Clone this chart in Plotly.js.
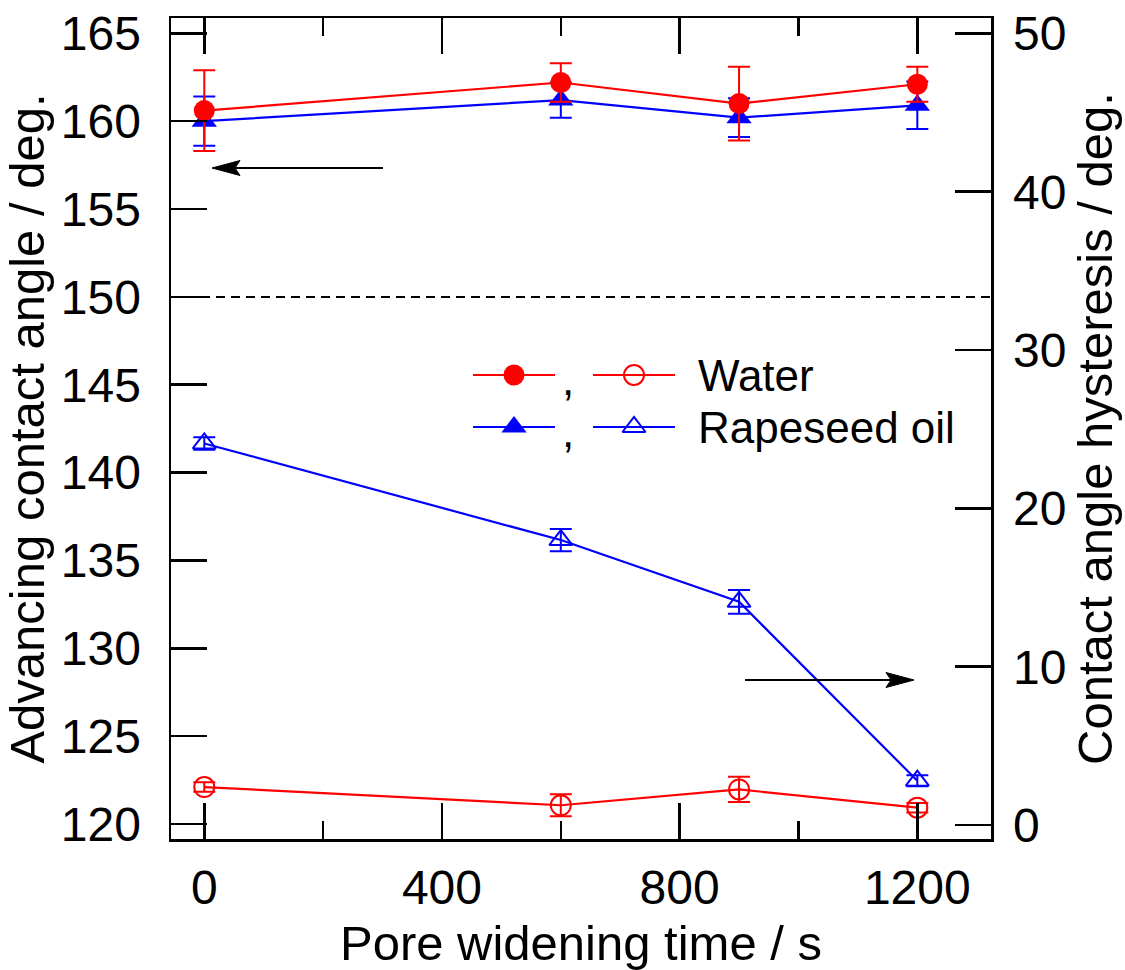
<!DOCTYPE html>
<html>
<head>
<meta charset="utf-8">
<script src="https://cdn.plot.ly/plotly-3.0.1.min.js"></script>
<style>html,body{margin:0;padding:0;background:#fff;}</style>
</head>
<body>
<div id="chart" style="width:1125px;height:970px;"></div>
<script>
// ---- data ----
const time = [0, 600, 900, 1200];
const waterAdv = [160.6, 162.2, 161.0, 162.1];
const waterAdvErr = [2.3, 1.1, 2.1, 1.0];
const oilAdv = [160.0, 161.2, 160.2, 160.9];
const oilAdvErr = [1.4, 1.0, 1.1, 1.35];
const waterHys = [2.4, 1.25, 2.25, 1.1];
const waterHysErr = [0.3, 0.7, 0.8, 0.3];
const oilHys = [24.1, 18.0, 14.1, 2.8];
const oilHysErr = [0.4, 0.7, 0.75, 0.35];
const superhydrophobicLimit = 150;
const xTicks = [0, 400, 800, 1200];
const yLeftTicks = [120, 125, 130, 135, 140, 145, 150, 155, 160, 165];
const yRightTicks = [0, 10, 20, 30, 40, 50];
const legendNames = ["Water", "Rapeseed oil"];

const RED = '#ff0000', BLUE = '#0000ff';
const FONT = 'Liberation Sans, Arial, sans-serif';

function errs(arr, color) {
  return {type: 'data', array: arr, visible: true, color: color, thickness: 2, width: 11};
}

const traces = [
  // hysteresis (right axis)
  {x: time, y: oilHys, yaxis: 'y2', mode: 'lines+markers', error_y: errs(oilHysErr, BLUE),
   line: {color: BLUE, width: 2.2}, marker: {symbol: 'triangle-up-open', size: 20, color: BLUE, line: {width: 2, color: BLUE}}},
  {x: time, y: waterHys, yaxis: 'y2', mode: 'lines+markers', error_y: errs(waterHysErr, RED),
   line: {color: RED, width: 2.2}, marker: {symbol: 'circle-open', size: 20, color: RED, line: {width: 2, color: RED}}},
  // advancing (left axis)
  {x: time, y: oilAdv, yaxis: 'y', mode: 'lines+markers', error_y: errs(oilAdvErr, BLUE),
   line: {color: BLUE, width: 2.2}, marker: {symbol: 'triangle-up', size: 22, color: BLUE}},
  {x: time, y: waterAdv, yaxis: 'y', mode: 'lines+markers', error_y: errs(waterAdvErr, RED),
   line: {color: RED, width: 2.2}, marker: {symbol: 'circle', size: 21, color: RED}}
];

// ---- legend drawn on a hidden pixel-like overlay axis ----
const legRows = [{y: 375, color: RED, filled: 'circle', open: 'circle-open', fsize: 21, osize: 20},
                 {y: 427, color: BLUE, filled: 'triangle-up', open: 'triangle-up-open', fsize: 22, osize: 20}];
const annotations = [];
legRows.forEach((r, i) => {
  traces.push({x: [473, 555], y: [r.y, r.y], xaxis: 'x3', yaxis: 'y3', mode: 'lines', line: {color: r.color, width: 2.2}, hoverinfo: 'skip'});
  traces.push({x: [593, 675], y: [r.y, r.y], xaxis: 'x3', yaxis: 'y3', mode: 'lines', line: {color: r.color, width: 2.2}, hoverinfo: 'skip'});
  traces.push({x: [514], y: [r.y], xaxis: 'x3', yaxis: 'y3', mode: 'markers', marker: {symbol: r.filled, size: r.fsize, color: r.color}, hoverinfo: 'skip'});
  traces.push({x: [634], y: [r.y], xaxis: 'x3', yaxis: 'y3', mode: 'markers', marker: {symbol: r.open, size: r.osize, color: r.color, line: {width: 2, color: r.color}}, hoverinfo: 'skip'});
  annotations.push({xref: 'x3', yref: 'y3', x: 568, y: r.y + 4, text: ',', showarrow: false, font: {family: FONT, size: 44, color: '#000'}, xanchor: 'center', yanchor: 'middle'});
  annotations.push({xref: 'x3', yref: 'y3', x: 696, y: r.y, text: legendNames[i], showarrow: false, font: {family: FONT, size: 44, color: '#000'}, xanchor: 'left', yanchor: 'middle'});
});

// arrows (decorations) in the pixel-like overlay frame
function arrowShapes(xTail, xTip, y) {
  const dir = xTip > xTail ? 1 : -1;
  const back = xTip - dir * 28, notch = xTip - dir * 23;
  return [
    {type: 'line', xref: 'x3', yref: 'y3', x0: xTail, x1: notch, y0: y, y1: y, line: {color: '#000', width: 2.2}},
    {type: 'path', xref: 'x3', yref: 'y3', path: `M${xTip},${y} L${back},${y - 7.5} L${notch},${y} L${back},${y + 7.5} Z`,
     fillcolor: '#000', line: {color: '#000', width: 1}}
  ];
}

const tickFont = {family: FONT, size: 48, color: '#000'};
const titleFont = {family: FONT, size: 49, color: '#000'};

const layout = {
  width: 1125, height: 970,
  margin: {l: 171, r: 134, t: 18, b: 131, pad: 0},
  paper_bgcolor: '#fff', plot_bgcolor: '#fff',
  showlegend: false,
  font: {family: FONT, color: '#000'},
  xaxis: {
    range: [-56, 1324], tickvals: xTicks, ticktext: xTicks.map(String),
    ticks: 'inside', ticklen: 36, tickwidth: 2.5, tickcolor: '#000',
    minor: {ticks: 'inside', ticklen: 18, tickwidth: 2.5, tickcolor: '#000', dtick: 200, tick0: 0},
    showline: true, linewidth: 2.5, linecolor: '#000', mirror: 'ticks',
    showgrid: false, zeroline: false, tickfont: tickFont, ticklabelstandoff: 5,
    title: {text: 'Pore widening time / s', font: titleFont, standoff: 22}
  },
  yaxis: {
    range: [119.15, 165.87], tickvals: yLeftTicks, ticktext: yLeftTicks.map(String),
    ticks: 'inside', ticklen: 36, tickwidth: 2.5, tickcolor: '#000',
    showline: true, linewidth: 2.5, linecolor: '#000',
    showgrid: false, zeroline: false, tickfont: tickFont, ticklabelstandoff: 18,
    title: {text: 'Advancing contact angle / deg.', font: titleFont, standoff: 10}
  },
  yaxis2: {
    range: [-0.88, 50.97], tickvals: yRightTicks, ticktext: yRightTicks.map(String),
    overlaying: 'y', side: 'right',
    ticks: 'inside', ticklen: 36, tickwidth: 2.5, tickcolor: '#000',
    showline: true, linewidth: 2.5, linecolor: '#000',
    showgrid: false, zeroline: false, tickfont: tickFont, ticklabelstandoff: 10,
    title: {text: 'Contact angle hysteresis / deg.', font: titleFont, standoff: 12}
  },
  xaxis3: {overlaying: 'x', range: [171, 991], visible: false, fixedrange: true},
  yaxis3: {overlaying: 'y', range: [839, 18], visible: false, fixedrange: true},
  shapes: [{type: 'line', xref: 'paper', yref: 'y', x0: 0, x1: 1, y0: superhydrophobicLimit, y1: superhydrophobicLimit,
            line: {color: '#000', width: 2, dash: '9px,6px'}}]
            .concat(arrowShapes(383, 212, 168))
            .concat(arrowShapes(745, 914, 680)),
  annotations: annotations
};

Plotly.newPlot('chart', traces, layout, {displayModeBar: false, staticPlot: true});
</script>
</body>
</html>
